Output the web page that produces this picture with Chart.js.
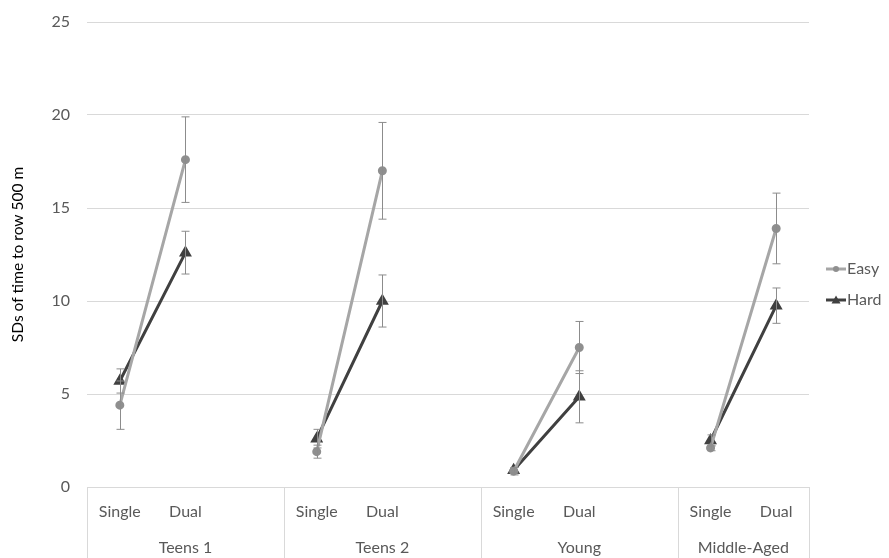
<!DOCTYPE html>
<html>
<head>
<meta charset="utf-8">
<script src="https://cdn.jsdelivr.net/npm/chart.js@4"></script>
<style>
  body { margin: 0; background: #fff; }
  #wrap { width: 889px; height: 558px; }
</style>
</head>
<body>
<div id="wrap"><canvas id="chart" width="889" height="558"></canvas></div>
<script>
// categories: blank slots separate the age groups (gives the gaps in the lines)
const categories = ["Single", "Dual", "", "Single", "Dual", "", "Single", "Dual", "", "Single", "Dual"];
const groups = ["Teens 1", "Teens 2", "Young", "Middle-Aged"];
const groupStarts = [0, 3, 6, 9];
const groupEnds = [2, 5, 8, 10];

const easyValues = [4.4, 17.6, null, 1.9, 17.0, null, 0.85, 7.5, null, 2.1, 13.9];
const hardValues = [5.7, 12.6, null, 2.6, 10.0, null, 0.9, 4.85, null, 2.5, 9.75];
const easyErrors = [1.3, 2.3, null, 0.35, 2.6, null, 0.2, 1.4, null, 0.15, 1.9];
const hardErrors = [0.65, 1.15, null, 0.5, 1.4, null, 0.15, 1.4, null, 0.3, 0.95];

const yTicks = [0, 5, 10, 15, 20, 25];

const FONT = "Lato, 'Open Sans', sans-serif";
const TEXT = "#595959";
const GRID = "#d9d9d9";

// error bars, drawn through the y scale
const errorBars = {
  id: "errorBars",
  afterDatasetsDraw(chart) {
    const { ctx, scales: { x, y } } = chart;
    const errs = [easyErrors, hardErrors];
    ctx.save();
    ctx.strokeStyle = "#8c8c8c";
    ctx.lineWidth = 1;
    chart.data.datasets.forEach((ds, di) => {
      ds.data.forEach((v, i) => {
        const e = errs[di][i];
        if (v == null || e == null) return;
        const px = Math.round(x.getPixelForValue(i)) + 0.5;
        const top = y.getPixelForValue(v + e);
        const bot = y.getPixelForValue(v - e);
        ctx.beginPath();
        ctx.moveTo(px, top); ctx.lineTo(px, bot);
        ctx.moveTo(px - 4, top); ctx.lineTo(px + 4, top);
        ctx.moveTo(px - 4, bot); ctx.lineTo(px + 4, bot);
        ctx.stroke();
      });
    });
    ctx.restore();
  }
};

// multi-level category axis: group separators and group names
const groupAxis = {
  id: "groupAxis",
  afterDraw(chart) {
    const { ctx, scales: { x }, chartArea } = chart;
    const catW = x.getPixelForValue(1) - x.getPixelForValue(0);
    const bottom = chart.height;
    ctx.save();
    ctx.strokeStyle = GRID;
    ctx.lineWidth = 1;
    const edges = [x.getPixelForValue(0) - catW / 2];
    groupEnds.forEach(e => edges.push(x.getPixelForValue(e) + catW / 2));
    edges.forEach(ex => {
      const px = Math.round(ex) + 0.5;
      ctx.beginPath();
      ctx.moveTo(px, chartArea.bottom);
      ctx.lineTo(px, bottom);
      ctx.stroke();
    });
    ctx.fillStyle = TEXT;
    ctx.font = "16px " + FONT;
    ctx.textAlign = "center";
    ctx.textBaseline = "middle";
    groups.forEach((g, gi) => {
      const left = x.getPixelForValue(groupStarts[gi]) - catW / 2;
      const right = x.getPixelForValue(groupEnds[gi]) + catW / 2;
      ctx.fillText(g, (left + right) / 2, 548);
    });
    ctx.restore();
  }
};

// legend on the right with line + marker samples
const sideLegend = {
  id: "sideLegend",
  afterDraw(chart) {
    const { ctx } = chart;
    const items = chart.data.datasets;
    ctx.save();
    ctx.font = "16px " + FONT;
    ctx.textBaseline = "middle";
    items.forEach((ds, i) => {
      const yy = 269 + i * 31;
      const x0 = 826, x1 = 846;
      ctx.strokeStyle = ds.borderColor;
      ctx.lineWidth = ds.borderWidth;
      ctx.beginPath();
      ctx.moveTo(x0, yy); ctx.lineTo(x1, yy);
      ctx.stroke();
      ctx.fillStyle = ds.pointBackgroundColor;
      const cx = (x0 + x1) / 2;
      ctx.beginPath();
      if (ds.pointStyle === "triangle") {
        ctx.moveTo(cx, yy - 4.5);
        ctx.lineTo(cx + 4.5, yy + 3.5);
        ctx.lineTo(cx - 4.5, yy + 3.5);
        ctx.closePath();
      } else {
        ctx.arc(cx, yy, 3, 0, Math.PI * 2);
      }
      ctx.fill();
      ctx.fillStyle = TEXT;
      ctx.fillText(ds.label, x1 + 1, yy);
    });
    ctx.restore();
  }
};

new Chart(document.getElementById("chart"), {
  type: "line",
  data: {
    labels: categories,
    datasets: [
      {
        label: "Easy",
        data: easyValues,
        borderColor: "#a6a6a6",
        borderWidth: 3,
        pointStyle: "circle",
        pointRadius: 3,
        pointBackgroundColor: "#8f8f8f",
        pointBorderColor: "#8f8f8f",
        spanGaps: false,
        tension: 0
      },
      {
        label: "Hard",
        data: hardValues,
        borderColor: "#404040",
        borderWidth: 3,
        pointStyle: "triangle",
        pointRadius: 4.5,
        pointBackgroundColor: "#404040",
        pointBorderColor: "#404040",
        spanGaps: false,
        tension: 0
      }
    ]
  },
  options: {
    responsive: false,
    animation: false,
    layout: { padding: { top: 22, right: 80, left: 0, bottom: 0 } },
    plugins: {
      legend: { display: false },
      tooltip: { enabled: false }
    },
    scales: {
      x: {
        offset: true,
        grid: { display: false, drawTicks: false },
        border: { display: false },
        ticks: {
          color: TEXT,
          font: { family: FONT, size: 16 },
          padding: 15,
          autoSkip: false,
          maxRotation: 0
        },
        afterFit(scale) { scale.height = 71; }
      },
      y: {
        min: 0,
        max: 25,
        afterBuildTicks(scale) { scale.ticks = yTicks.map(v => ({ value: v })); },
        grid: { color: GRID, drawTicks: false },
        border: { display: false },
        ticks: {
          color: TEXT,
          font: { family: FONT, size: 16 },
          padding: 17
        },
        title: {
          display: true,
          text: "SDs of time to row 500 m",
          color: "#000",
          font: { family: FONT, size: 15.5 },
          padding: { top: 9, bottom: 0 }
        },
        afterFit(scale) {
          scale.width = 87;
          scale.paddingTop = 0;
          scale.paddingBottom = 0;
        }
      }
    }
  },
  plugins: [errorBars, groupAxis, sideLegend]
});
</script>
</body>
</html>
